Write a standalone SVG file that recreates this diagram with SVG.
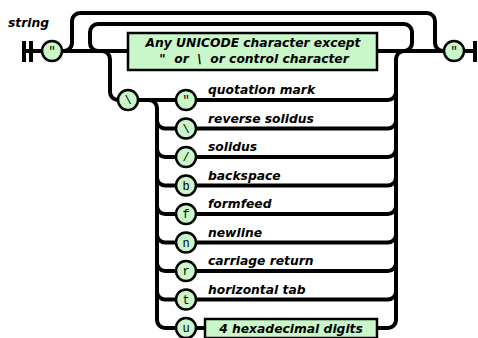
<svg xmlns="http://www.w3.org/2000/svg" width="478" height="338" viewBox="0 0 478 338">
<style>
.ln{fill:none;stroke:#000;stroke-width:4;stroke-linecap:butt}
.term circle{fill:#c9f7c9;stroke:#000;stroke-width:2.5}
.term text{font-family:"Liberation Mono","DejaVu Sans Mono",monospace;font-size:12px;text-anchor:middle}
.box rect{fill:#c9f7c9;stroke:#000;stroke-width:2.5}
.lbl{font-family:"DejaVu Sans",Verdana,sans-serif;font-weight:bold;font-style:italic;font-size:12.3px;fill:#000}
.ctr{text-anchor:middle;white-space:pre}
</style>
<rect width="478" height="338" fill="#fff"/>
<text class="lbl" x="8" y="27">string</text>
<g id="connectors">
<rect x="22" y="41" width="4" height="21"/>
<rect x="29" y="41" width="4" height="21"/>
<rect x="473" y="41" width="4" height="21"/>
<path class="ln" d="M22,51 H42 M62,51 H128 M377,51 H444 M464,51 H474"/>
<path class="ln" d="M64,51 A8 8 0 0 0 72,43 V21 A8 8 0 0 1 80,13 H427 A8 8 0 0 1 435,21 V43 A8 8 0 0 0 443,51"/>
<path class="ln" d="M404,51 A8 8 0 0 0 412,43 V32 A8 8 0 0 0 404,24 H98 A8 8 0 0 0 90,32 V43 A8 8 0 0 0 98,51"/>
<path class="ln" d="M102,51 A8 8 0 0 1 110,59 V92 A8 8 0 0 0 118,100 M138,100 H176 M149,100 A8 8 0 0 1 157,108 V320 A8 8 0 0 0 165,328 H176"/>
<path class="ln" d="M157,120.5 A8 8 0 0 0 165,128.5 H176 M157,149 A8 8 0 0 0 165,157 H176 M157,177.5 A8 8 0 0 0 165,185.5 H176 M157,206 A8 8 0 0 0 165,214 H176 M157,234.5 A8 8 0 0 0 165,242.5 H176 M157,263 A8 8 0 0 0 165,271 H176 M157,291.5 A8 8 0 0 0 165,299.5 H176"/>
<path class="ln" d="M196,100 H388 M196,128.5 H388 A8 8 0 0 0 396,120.5 M196,157 H388 A8 8 0 0 0 396,149 M196,185.5 H388 A8 8 0 0 0 396,177.5 M196,214 H388 A8 8 0 0 0 396,206 M196,242.5 H388 A8 8 0 0 0 396,234.5 M196,271 H388 A8 8 0 0 0 396,263 M196,299.5 H388 A8 8 0 0 0 396,291.5 M196,328 H205 M377,328 H388 A8 8 0 0 0 396,320 V59 A8 8 0 0 1 404,51 M388,100 A8 8 0 0 0 396,92"/>
</g>
<g id="start-quote" class="term"><circle cx="52" cy="51" r="10"/><text x="52" y="55">"</text></g>
<g id="end-quote" class="term"><circle cx="454" cy="51" r="10"/><text x="454" y="55">"</text></g>
<g id="unicode-char" class="box"><rect x="128" y="33" width="249" height="37"/>
<text class="lbl ctr" x="253" y="47">Any UNICODE character except</text>
<text class="lbl ctr" x="254" y="63">"  or  \  or control character</text></g>
<g id="backslash" class="term"><circle cx="128" cy="100" r="10"/><text x="128" y="104">\</text></g>
<g id="esc-quote" class="term"><circle cx="186" cy="100" r="10"/><text x="186" y="104">"</text></g>
<text class="lbl" x="208" y="94">quotation mark</text>
<g id="esc-backslash" class="term"><circle cx="186" cy="128.5" r="10"/><text x="186" y="132.5">\</text></g>
<text class="lbl" x="208" y="122.5">reverse solidus</text>
<g id="esc-slash" class="term"><circle cx="186" cy="157" r="10"/><text x="186" y="161">/</text></g>
<text class="lbl" x="208" y="151">solidus</text>
<g id="esc-b" class="term"><circle cx="186" cy="185.5" r="10"/><text x="186" y="189.5">b</text></g>
<text class="lbl" x="208" y="179.5">backspace</text>
<g id="esc-f" class="term"><circle cx="186" cy="214" r="10"/><text x="186" y="218">f</text></g>
<text class="lbl" x="208" y="208">formfeed</text>
<g id="esc-n" class="term"><circle cx="186" cy="242.5" r="10"/><text x="186" y="246.5">n</text></g>
<text class="lbl" x="208" y="236.5">newline</text>
<g id="esc-r" class="term"><circle cx="186" cy="271" r="10"/><text x="186" y="275">r</text></g>
<text class="lbl" x="208" y="265">carriage return</text>
<g id="esc-t" class="term"><circle cx="186" cy="299.5" r="10"/><text x="186" y="303.5">t</text></g>
<text class="lbl" x="208" y="293.5">horizontal tab</text>
<g id="esc-u" class="term"><circle cx="186" cy="328" r="10"/><text x="186" y="332">u</text></g>
<g id="hex-digits" class="box"><rect x="205" y="319" width="172" height="19"/>
<text class="lbl ctr" x="291" y="333">4 hexadecimal digits</text></g>
</svg>
